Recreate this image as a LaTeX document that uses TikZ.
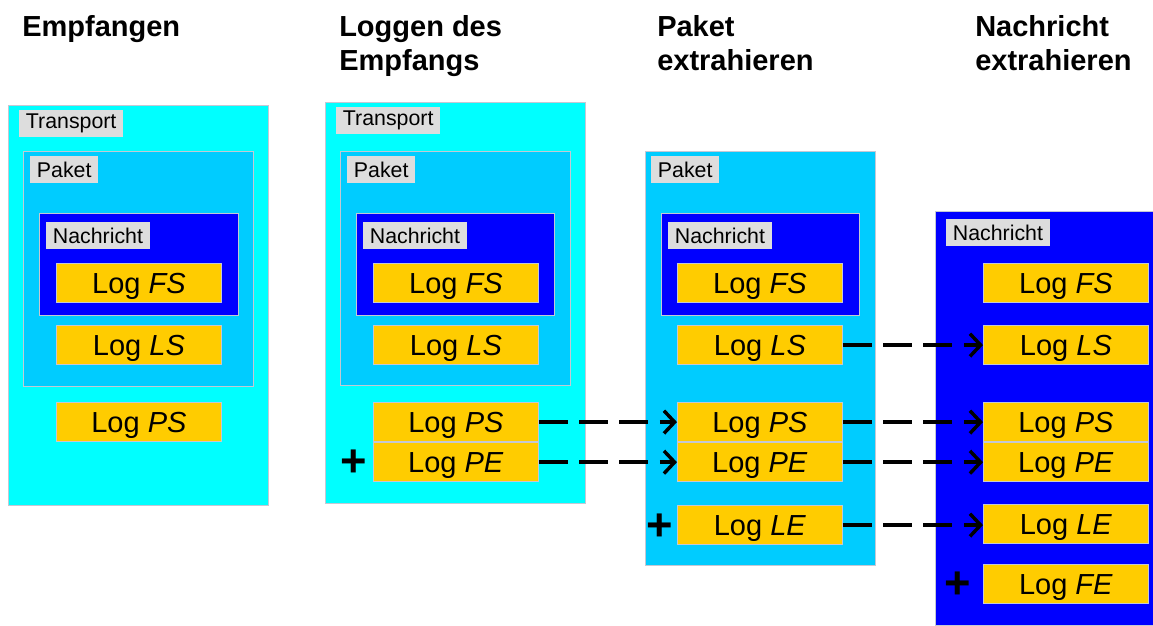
\documentclass[tikz,border=0pt]{standalone}
\usepackage{fontspec}
\setmainfont{Liberation Sans}
\usetikzlibrary{positioning,arrows.meta}

\definecolor{transcyan}{HTML}{00FFFF}
\definecolor{paketblue}{HTML}{00CCFF}
\definecolor{nachrblue}{HTML}{0000FF}
\definecolor{loggold}{HTML}{FFCC00}
\definecolor{taggray}{HTML}{DDDDDD}
\definecolor{edgegray}{HTML}{C4C8D4}

\begin{document}
\begin{tikzpicture}
	[
		x = 0.75pt, y = -0.75pt,
		layer/.style 2 args = {draw=edgegray, line width=0.8pt, inner sep=0, anchor=north west, minimum width=#1*0.75pt, minimum height=#2*0.75pt},
		transport/.style 2 args = {layer={#1}{#2}, fill=transcyan},
		paket/.style 2 args = {layer={#1}{#2}, fill=paketblue},
		nachricht/.style 2 args = {layer={#1}{#2}, fill=nachrblue},
		tag/.style = {fill=taggray, inner xsep=5pt, inner ysep=0, minimum height=20pt, anchor=north west, font=\fontsize{16}{19}\selectfont},
		logbox/.style = {fill=loggold, draw=edgegray, line width=0.6pt, inner sep=0, minimum width=123.75pt, minimum height=29.5pt, text height=15.6pt, text depth=0pt, anchor=north west, font=\fontsize{21.75}{26}\selectfont},
		heading/.style = {anchor=north west, align=left, inner sep=0, font=\bfseries\fontsize{21.75}{25.5}\selectfont},
		plus/.style = {inner sep=0, font=\bfseries\fontsize{34}{34}\selectfont},
		flow/.style = {line width=3pt, dash pattern=on 21.75pt off 8.5pt, -{Straight Barb[length=8pt, width=17pt, line width=2.6pt]}}]

	\useasboundingbox (0,0) rectangle (1153,625);

	% Empfangen
	\node[heading] (h1) at (22,15) {Empfangen};
	\node[transport={260}{400}] (t1) at (8,105) {};
	\node[tag] (t1tag) at (19,110) {Transport};
	\node[paket={230}{235}] (p1) at (23,151) {};
	\node[tag] (p1tag) at (30,156) {Paket};
	\node[nachricht={199}{102}] (n1) at (39,213) {};
	\node[tag] (n1tag) at (46,222) {Nachricht};
	\node[logbox] (fs1) at (56,263) {Log \textit{FS}};
	\node[logbox] (ls1) at (56,325) {Log \textit{LS}};
	\node[logbox] (ps1) at (56,402) {Log \textit{PS}};

	% Loggen des Empfangs
	\node[heading] (h2) at (339,15) {Loggen des\\Empfangs};
	\node[transport={260}{401}] (t2) at (325,102) {};
	\node[tag] (t2tag) at (336,107) {Transport};
	\node[paket={230}{234}] (p2) at (340,151) {};
	\node[tag] (p2tag) at (347,156) {Paket};
	\node[nachricht={198}{102}] (n2) at (356,213) {};
	\node[tag] (n2tag) at (363,222) {Nachricht};
	\node[logbox] (fs2) at (373,263) {Log \textit{FS}};
	\node[logbox] (ls2) at (373,325) {Log \textit{LS}};
	\node[logbox] (ps2) at (373,402) {Log \textit{PS}};
	\node[logbox, below=0pt of ps2] (pe2) {Log \textit{PE}};
	\node[plus] (pe2plus) at (354,463) {+};

	% Paket extrahieren
	\node[heading] (h3) at (657,15) {Paket\\extrahieren};
	\node[paket={230}{414}] (p3) at (645,151) {};
	\node[tag] (p3tag) at (651,156) {Paket};
	\node[nachricht={198}{102}] (n3) at (661,213) {};
	\node[tag] (n3tag) at (668,222) {Nachricht};
	\node[logbox] (fs3) at (677,263) {Log \textit{FS}};
	\node[logbox] (ls3) at (677,325) {Log \textit{LS}};
	\node[logbox] (ps3) at (677,402) {Log \textit{PS}};
	\node[logbox, below=0pt of ps3] (pe3) {Log \textit{PE}};
	\node[logbox] (le3) at (677,505) {Log \textit{LE}};
	\node[plus] (le3plus) at (660,527) {+};

	% Nachricht extrahieren
	\node[heading] (h4) at (975,15) {Nachricht\\extrahieren};
	\node[nachricht={218}{414}] (n4) at (935,211) {};
	\node[tag] (n4tag) at (946,219) {Nachricht};
	\node[logbox] (fs4) at (983,263) {Log \textit{FS}};
	\node[logbox] (ls4) at (983,325) {Log \textit{LS}};
	\node[logbox] (ps4) at (983,402) {Log \textit{PS}};
	\node[logbox, below=0pt of ps4] (pe4) {Log \textit{PE}};
	\node[logbox] (le4) at (983,504) {Log \textit{LE}};
	\node[logbox] (fe4) at (983,564) {Log \textit{FE}};
	\node[plus] (fe4plus) at (958,585) {+};

	% Uebergaenge
	\draw[flow] (ps2) -- (ps3);
	\draw[flow] (pe2) -- (pe3);
	\draw[flow] (ls3) -- (ls4);
	\draw[flow] (ps3) -- (ps4);
	\draw[flow] (pe3) -- (pe4);
	\draw[flow] (le3) -- (le3 -| le4.west);
\end{tikzpicture}
\end{document}
